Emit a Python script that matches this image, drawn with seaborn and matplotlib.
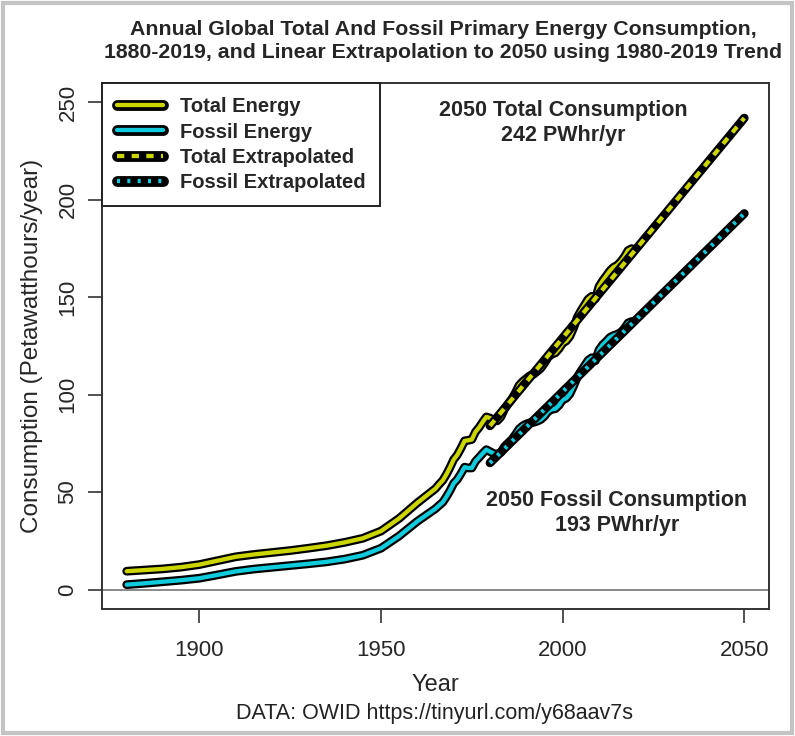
import matplotlib
matplotlib.use('Agg')
import matplotlib.pyplot as plt
from matplotlib.lines import Line2D
from matplotlib.patches import Rectangle
import seaborn as sns
import pandas as pd

# data (PWh/yr)
years = list(range(1880, 1965, 5)) + list(range(1965, 2020))
total = [9.4, 10.0, 10.6, 11.5, 12.8, 14.8, 16.8, 18.0, 19.0, 20.0,
         21.2, 22.5, 24.2, 26.3, 30.0, 36.5, 44.5,
         51.8, 54.0, 56.0, 59.1, 62.7, 66.7, 69.1, 72.5, 76.3, 76.6,
         77.0, 80.9, 83.2, 86.0, 88.6, 88.0, 87.0, 86.6, 88.6, 92.6,
         95.3, 97.8, 101.0, 104.8, 106.8, 108.3, 109.8, 110.5, 112.0, 113.6,
         116.2, 119.2, 120.8, 121.5, 123.6, 126.5, 127.6, 130.0, 134.2, 139.6,
         143.0, 146.0, 149.0, 150.5, 149.2, 155.5, 158.5, 161.0, 163.6, 165.4,
         166.4, 168.3, 170.8, 174.0, 175.0]
fossil = [2.5, 3.2, 4.0, 4.8, 5.8, 7.5, 9.3, 10.5, 11.4, 12.3,
          13.2, 14.2, 15.6, 17.6, 21.2, 27.5, 35.0,
          41.5, 43.2, 44.8, 47.6, 50.8, 54.5, 56.5, 59.5, 62.8, 62.4,
          62.4, 65.8, 67.8, 69.9, 71.8, 70.8, 69.8, 69.4, 70.4, 73.4,
          75.2, 77.0, 79.5, 82.4, 84.0, 85.0, 85.6, 85.8, 86.4, 87.3,
          89.0, 91.4, 92.5, 92.8, 94.6, 97.4, 98.2, 100.4, 104.4, 109.0,
          112.0, 114.8, 117.6, 119.0, 117.4, 123.0, 125.6, 127.4, 129.4, 130.4,
          131.0, 132.0, 134.0, 136.8, 137.6]

extrap_years = [1980, 2050]
total_extrap = [84, 242]
fossil_extrap = [65, 193]

xticks = [1900, 1950, 2000, 2050]
yticks = [0, 50, 100, 150, 200, 250]

YEL = '#cbd600'
CYA = '#10cbdc'
OUT, IN = 6.3, 3.1

df = pd.DataFrame({'Year': years, 'Total': total, 'Fossil': fossil})
ex = pd.DataFrame({'Year': extrap_years, 'Total': total_extrap, 'Fossil': fossil_extrap})

sns.set_style('ticks')
plt.rcParams['font.family'] = ['Liberation Sans', 'DejaVu Sans']

fig = plt.figure(figsize=(7.95, 7.36), dpi=100)
ax = fig.add_axes([102 / 795, 1 - 609 / 736, 667 / 795, 526 / 736])


def outlined(data, col, color, dashes=None):
    sns.lineplot(data=data, x='Year', y=col, ax=ax, color='black', lw=OUT,
                 solid_capstyle='round', legend=False)
    sns.lineplot(data=data, x='Year', y=col, ax=ax, color=color, lw=IN,
                 solid_capstyle='round', legend=False)
    if dashes:
        ax.lines[-1].set_dashes(dashes)
        ax.lines[-1].set_dash_capstyle('butt')


ax.axhline(0, color='#808080', lw=1.3, zorder=0)
outlined(df, 'Total', YEL)
outlined(df, 'Fossil', CYA)
outlined(ex, 'Total', YEL, dashes=(1.7, 1.7))
outlined(ex, 'Fossil', CYA, dashes=(0.7, 1.7))

ax.set_xlim(1873.2, 2056.8)
ax.set_ylim(-10, 260)
ax.set_xticks(xticks)
ax.set_yticks(yticks)
ax.tick_params(length=10, width=1.2, color='#333333', labelsize=16)
ax.tick_params(axis='x', pad=12)
ax.tick_params(axis='y', pad=7)
for lab in ax.get_yticklabels():
    lab.set_rotation(90)
    lab.set_va('center')
for s in ax.spines.values():
    s.set_color('#333333')
    s.set_linewidth(1.4)

ax.set_xlabel('Year', fontsize=17)
ax.set_ylabel('Consumption (Petawatthours/year)', fontsize=17.5)
ax.xaxis.label.set_va('center')
ax.xaxis.set_label_coords(0.5, (609 - 685) / 526)
ax.yaxis.label.set_va('center')
ax.yaxis.set_label_coords((32 - 102) / 667, 0.5)

fig.text(443 / 795, 1 - 41 / 736,
         'Annual Global Total And Fossil Primary Energy Consumption,\n'
         '1880-2019, and Linear Extrapolation to 2050 using 1980-2019 Trend',
         ha='center', va='center', fontsize=15.3, fontweight='bold', linespacing=1.25)

ax.text((563 - 102) / 667, (609 - 123) / 526, '2050 Total Consumption\n242 PWhr/yr',
        transform=ax.transAxes, ha='center', va='center', fontsize=15.5,
        fontweight='bold', linespacing=1.2)
ax.text((617 - 102) / 667, (609 - 513) / 526, '2050 Fossil Consumption\n193 PWhr/yr',
        transform=ax.transAxes, ha='center', va='center', fontsize=15.5,
        fontweight='bold', linespacing=1.2)

handles = [
    (Line2D([], [], color='black', lw=OUT + 1.5, solid_capstyle='round'),
     Line2D([], [], color=YEL, lw=IN, solid_capstyle='round')),
    (Line2D([], [], color='black', lw=OUT + 1.5, solid_capstyle='round'),
     Line2D([], [], color=CYA, lw=IN, solid_capstyle='round')),
    (Line2D([], [], color='black', lw=OUT + 1.5, solid_capstyle='round'),
     Line2D([], [], color=YEL, lw=IN, dashes=(1.7, 1.7))),
    (Line2D([], [], color='black', lw=OUT + 1.5, solid_capstyle='round'),
     Line2D([], [], color=CYA, lw=IN, dashes=(0.7, 1.7))),
]
labels = ['Total Energy', 'Fossil Energy', 'Total Extrapolated', 'Fossil Extrapolated']
leg = ax.legend(handles, labels, loc='upper left', bbox_to_anchor=(0, 1),
                borderaxespad=0, fancybox=False, framealpha=1, edgecolor='#222222',
                prop={'weight': 'bold', 'size': 14.5}, handlelength=2.3,
                handletextpad=0.85, labelspacing=0.3, borderpad=0.72)
leg.get_frame().set_linewidth(1.4)

fig.text(435 / 795, 1 - 714 / 736, 'DATA: OWID https://tinyurl.com/y68aav7s',
         ha='center', va='center', fontsize=15.5, color='#222222')

fig.patches.append(Rectangle((0.004, 0.004), 0.992, 0.992, transform=fig.transFigure,
                             fill=False, edgecolor='#c4c4c4', lw=3))

fig.savefig('out.png', dpi=100)
